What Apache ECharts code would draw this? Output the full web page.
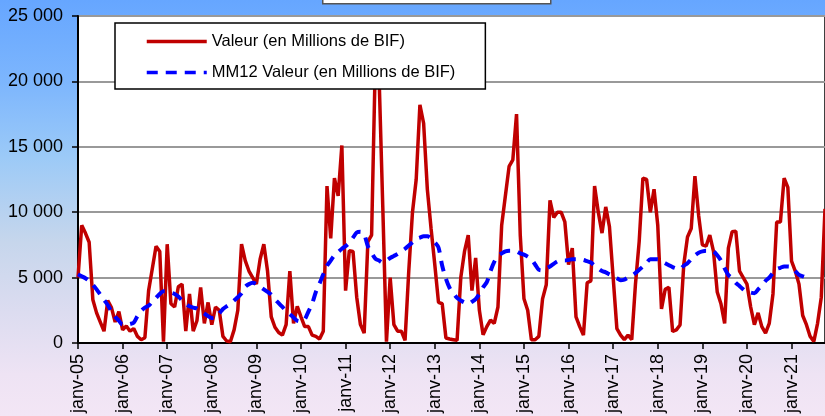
<!DOCTYPE html>
<html>
<head>
<meta charset="utf-8">
<script src="https://cdn.jsdelivr.net/npm/echarts@6/dist/echarts.min.js"></script>
<style>
  html, body { margin: 0; padding: 0; }
  #chart {
    width: 825px;
    height: 416px;
    background: linear-gradient(to bottom, #66a6ff 0%, #7db6fd 20%, #9ccaf7 38%, #c6d6ec 58%, #dcdcf0 75%, #eee3f4 90%, #f3e6f5 100%);
  }
</style>
</head>
<body>
<div id="chart"></div>
<script>
// month labels, Jan 2005 onwards
const monthNames = ['janv', 'févr', 'mars', 'avr', 'mai', 'juin', 'juil', 'août', 'sept', 'oct', 'nov', 'déc'];
const firstYear = 5;
const monthCount = 202;

// Valeur (en Millions de BIF), monthly
const valeur = [
  5000, 9000, 8400, 7700, 3300, 2300, 1600, 900, 3250, 2700, 1600, 2400,
  1000, 1300, 900, 1100, 500, 250, 400, 4000, 5700, 7400, 7000, 100,
  7550, 3000, 2750, 4300, 4500, 900, 3750, 900, 1700, 4250, 1500, 3100,
  1400, 2750, 2500, 500, 150, 100, 1000, 2500, 7550, 6300, 5500, 5000,
  4500, 6400, 7550, 5500, 2000, 1200, 800, 600, 1400, 5500, 1500, 2800,
  2000, 1250, 1250, 600, 500, 300, 900, 12000, 8000, 12600, 11250, 15100,
  4000, 7050, 7000, 3500, 1400, 750, 7750, 8250, 21500, 20500, 10500, 100,
  5000, 1400, 900, 900, 200, 5500, 10000, 12500, 18200, 16800, 11750, 8750,
  6000, 3100, 3000, 375, 300, 250, 200, 5000, 7000, 8250, 4000, 6500,
  2500, 625, 1250, 1750, 1500, 2750, 9000, 11250, 13500, 14000, 17500, 8250,
  3375, 2500, 250, 250, 500, 3375, 4450, 10900, 9600, 10000, 10000, 9250,
  6000, 7250, 2000, 1250, 600, 4600, 4750, 12000, 10000, 8400, 10400, 8900,
  5000, 1100, 600, 250, 600, 250, 4500, 7750, 12600, 12500, 10000, 11750,
  9000, 2600, 4100, 4250, 875, 1000, 1375, 6000, 8100, 8750, 12750, 9750,
  7500, 7400, 8250, 7000, 3900, 3000, 1500, 7250, 8500, 8550, 5500, 5000,
  4500, 2750, 1400, 2300, 1250, 750, 1500, 3750, 9250, 9250, 12600, 11900,
  6250, 5500, 4500, 2100, 1400, 500, 125, 1500, 3500, 10250
];

// MM12 Valeur (en Millions de BIF)
const mm12 = [
  5250, 5100, 4950, 4750, 4450, 4100, 3700, 3300, 2900, 2400, 2000, 1700,
  1400, 1400, 1450, 1550, 2050, 2450, 2700, 2850, 3150, 3450, 3750, 3950,
  3950, 3850, 3750, 3550, 3250, 3000, 2800, 2700, 2650, 2450, 2250, 2050,
  1900, 1950, 2250, 2600, 2800, 3000, 3250, 3500, 3800, 4300, 4500, 4600,
  4500, 4300, 4100, 3900, 3700, 3350, 3050, 2750, 2450, 2200, 1950, 1700,
  1650, 1800, 2400, 3000, 3900, 4550, 5250, 5900, 6300, 6700, 6950, 7200,
  7400, 7650, 8050, 8450, 8500, 8300, 7400, 6900, 6450, 6300, 6150, 6300,
  6500, 6650, 6800, 7000, 7200, 7450, 7700, 7950, 8050, 8150, 8150, 8000,
  7700, 7300, 5900, 4900, 4200, 3800, 3450, 3250, 3100, 3000, 3150, 3350,
  3750, 4250, 4650, 5500, 6200, 6650, 6850, 7000, 7050, 7050, 7000, 6850,
  6750, 6600, 6400, 6000, 5600, 5550, 5700, 5850, 6050, 6250, 6300, 6300,
  6350, 6400, 6400, 6400, 6350, 6250, 6150, 5900, 5700, 5500, 5400, 5250,
  5100, 4950, 4800, 4850, 5000, 5150, 5350, 5600, 5850, 6150, 6400, 6400,
  6400, 6250, 6100, 5950, 5800, 5700, 5650, 5900, 6100, 6400, 6700, 6900,
  7000, 7050, 7050, 7000, 6700, 6300, 5700, 5200, 4950, 4600, 4350, 4100,
  3900, 3850, 3800, 4100, 4400, 4750, 5000, 5350, 5650, 5750, 5850, 5850,
  5800, 5500, 5200, 5100, 5000
];

const yTicks = [0, 5000, 10000, 15000, 20000, 25000];

const months = [];
for (let i = 0; i < monthCount; i++) {
  const yy = firstYear + Math.floor(i / 12);
  months.push(monthNames[i % 12] + '-' + String(yy).padStart(2, '0'));
}

const fmtThousands = (v) => String(v).replace(/\B(?=(\d{3})+(?!\d))/g, ' ');
const isJanuary = (index) => index % 12 === 0;

const chart = echarts.init(document.getElementById('chart'), null, { renderer: 'canvas' });

const option = {
  backgroundColor: 'transparent',
  animation: false,
  textStyle: { fontFamily: '"Liberation Sans", Arial, sans-serif' },
  grid: {
    left: 78,
    right: 0,
    top: 16,
    bottom: 71,
    show: true,
    backgroundColor: '#ffffff',
    borderColor: '#000000',
    borderWidth: 1.5,
  },
  legend: {
    orient: 'vertical',
    left: 115,
    top: 23,
    padding: [10, 30, 8, 30],
    itemWidth: 60,
    itemHeight: 14,
    itemGap: 14,
    backgroundColor: '#ffffff',
    borderColor: '#000000',
    borderWidth: 1.5,
    itemStyle: { opacity: 0 },
    lineStyle: { width: 3.5 },
    textStyle: { color: '#000000', fontSize: 16.5, fontFamily: '"Liberation Sans", Arial, sans-serif' },
    data: ['Valeur (en Millions de BIF)', 'MM12 Valeur (en Millions de BIF)'],
    z: 10,
  },
  xAxis: {
    type: 'category',
    data: months,
    boundaryGap: false,
    axisLine: { show: true, lineStyle: { color: '#000000', width: 2 } },
    axisTick: { show: true, interval: isJanuary, length: 6, lineStyle: { color: '#000000', width: 1.5 } },
    axisLabel: {
      interval: isJanuary,
      rotate: 90,
      margin: 11,
      color: '#000000',
      fontSize: 18,
      padding: [8, 0, 0, 0],
    },
    splitLine: { show: false },
  },
  yAxis: {
    type: 'value',
    min: yTicks[0],
    max: yTicks[yTicks.length - 1],
    interval: 5000,
    axisLine: { show: true, lineStyle: { color: '#000000', width: 2 } },
    axisTick: { show: true, length: 6, lineStyle: { color: '#000000', width: 1.5 } },
    axisLabel: {
      color: '#000000',
      fontSize: 18,
      margin: 15,
      formatter: fmtThousands,
    },
    splitLine: { show: true, lineStyle: { color: '#999999', width: 2 } },
  },
  series: [
    {
      name: 'Valeur (en Millions de BIF)',
      type: 'line',
      data: valeur,
      symbol: 'none',
      lineStyle: { color: '#c00000', width: 3.5 },
      itemStyle: { color: '#c00000' },
      z: 3,
    },
    {
      name: 'MM12 Valeur (en Millions de BIF)',
      type: 'line',
      data: mm12,
      symbol: 'none',
      smooth: 0.3,
      lineStyle: { color: '#0000ff', width: 4, type: [11, 8] },
      itemStyle: { color: '#0000ff' },
      z: 4,
    },
  ],
  graphic: [
    {
      type: 'rect',
      left: 322,
      top: -12,
      shape: { width: 228, height: 15 },
      style: { fill: '#ffffff', stroke: '#555555', lineWidth: 1.5 },
    },
  ],
};

chart.setOption(option);
</script>
</body>
</html>
